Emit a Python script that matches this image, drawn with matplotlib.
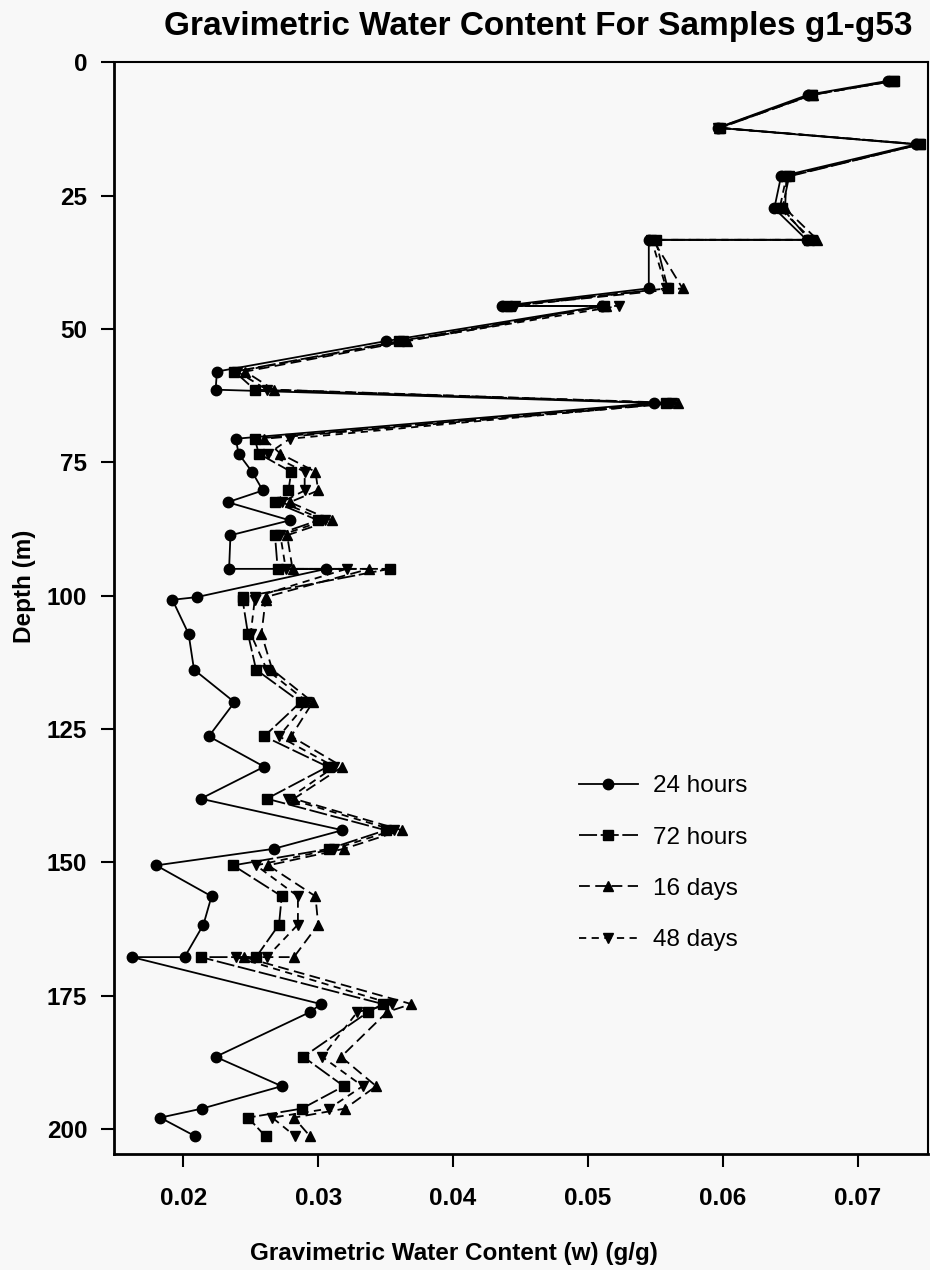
import numpy as np
import matplotlib
matplotlib.use('Agg')
import matplotlib.pyplot as plt

plt.rcParams['font.family'] = ['Liberation Sans', 'DejaVu Sans']

# depth of each sample (m)
depth = [3.5, 6.1, 12.3, 15.4, 21.4, 27.4, 33.3, 33.3, 42.4, 45.7, 45.7, 52.3,
         58.0, 61.4, 63.9, 70.6, 73.4, 76.8, 80.3, 82.5, 85.9, 88.7, 95.0, 95.0,
         100.3, 100.8, 107.2, 113.9, 120.0, 126.4, 132.1, 138.1, 144.0, 147.5,
         150.6, 156.4, 161.7, 167.8, 167.8, 176.6, 178.1, 186.5, 192.0, 196.2,
         197.9, 201.4]

w_24h = [0.0722, 0.0663, 0.0596, 0.0743, 0.0643, 0.0638, 0.0662, 0.0545, 0.0545, 0.0436, 0.0510, 0.0350,
         0.0225, 0.0224, 0.0549, 0.0239, 0.0241, 0.0251, 0.0259, 0.0233, 0.0279, 0.0235, 0.0234, 0.0306,
         0.0210, 0.0192, 0.0204, 0.0208, 0.0238, 0.0219, 0.0260, 0.0213, 0.0318, 0.0267,
         0.0180, 0.0221, 0.0215, 0.0201, 0.0162, 0.0302, 0.0294, 0.0224, 0.0273, 0.0214,
         0.0183, 0.0209]

w_72h = [0.0727, 0.0666, 0.0598, 0.0746, 0.0649, 0.0644, 0.0664, 0.0550, 0.0559, 0.0440, 0.0512, 0.0360,
         0.0238, 0.0253, 0.0558, 0.0253, 0.0256, 0.0280, 0.0278, 0.0268, 0.0300, 0.0268, 0.0270, 0.0353,
         0.0244, 0.0244, 0.0248, 0.0254, 0.0287, 0.0260, 0.0307, 0.0262, 0.0350, 0.0308,
         0.0237, 0.0273, 0.0271, 0.0254, 0.0213, 0.0348, 0.0337, 0.0289, 0.0319, 0.0288,
         0.0248, 0.0261]

w_16d = [0.0726, 0.0667, 0.0597, 0.0746, 0.0647, 0.0646, 0.0670, 0.0548, 0.0570, 0.0442, 0.0513, 0.0366,
         0.0246, 0.0267, 0.0567, 0.0260, 0.0272, 0.0298, 0.0300, 0.0279, 0.0310, 0.0277, 0.0281, 0.0338,
         0.0261, 0.0261, 0.0258, 0.0266, 0.0296, 0.0280, 0.0318, 0.0282, 0.0362, 0.0319,
         0.0263, 0.0298, 0.0300, 0.0282, 0.0245, 0.0369, 0.0351, 0.0317, 0.0343, 0.0320,
         0.0282, 0.0294]

w_48d = [0.0727, 0.0666, 0.0596, 0.0745, 0.0647, 0.0642, 0.0666, 0.0547, 0.0558, 0.0446, 0.0523, 0.0363,
         0.0240, 0.0262, 0.0562, 0.0279, 0.0263, 0.0290, 0.0290, 0.0273, 0.0305, 0.0272, 0.0276, 0.0321,
         0.0253, 0.0253, 0.0250, 0.0262, 0.0292, 0.0271, 0.0312, 0.0278, 0.0356, 0.0312,
         0.0254, 0.0285, 0.0285, 0.0262, 0.0239, 0.0355, 0.0329, 0.0303, 0.0333, 0.0308,
         0.0266, 0.0283]

labels = ['24 hours', '72 hours', '16 days', '48 days']
x_ticks = [0.02, 0.03, 0.04, 0.05, 0.06, 0.07]
y_ticks = [0, 25, 50, 75, 100, 125, 150, 175, 200]

bg = '#f8f8f8'
fig = plt.figure(figsize=(9.3, 12.7), dpi=100, facecolor=bg)
ax = fig.add_axes([0.123, 0.091, 0.875, 0.860], facecolor=bg)

ax.plot(w_24h, depth, color='black', lw=1.3, ls='-', marker='o', ms=7.5, label=labels[0])
ax.plot(w_72h, depth, color='black', lw=1.3, ls=(0, (10, 2)), marker='s', ms=7, label=labels[1])
ax.plot(w_16d, depth, color='black', lw=1.3, ls=(0, (6, 3)), marker='^', ms=7.5, label=labels[2])
ax.plot(w_48d, depth, color='black', lw=1.3, ls=(0, (4, 3)), marker='v', ms=7.5, label=labels[3])

ax.set_xlim(0.0149, 0.0752)
ax.set_ylim(204.8, 0)
ax.set_xticks(x_ticks)
ax.set_xticklabels(['%.2f' % v for v in x_ticks])
ax.set_yticks(y_ticks)

for s in ['left', 'bottom']:
    ax.spines[s].set_linewidth(2)
for s in ['top', 'right']:
    ax.spines[s].set_linewidth(1.5)

ax.tick_params(axis='both', direction='out', length=9.5, width=1.5,
               labelsize=17.5)
ax.tick_params(axis='x', pad=14)
ax.tick_params(axis='y', pad=10)
for t in ax.get_xticklabels() + ax.get_yticklabels():
    t.set_fontweight('bold')

ax.set_xlabel('Gravimetric Water Content (w) (g/g)', fontsize=17.5, fontweight='bold')
ax.xaxis.set_label_coords(0.417, -0.080)
ax.set_ylabel('Depth (m)', fontsize=17.5, fontweight='bold')
ax.yaxis.set_label_coords(-0.096, 0.52)

fig.text(0.579, 0.979, 'Gravimetric Water Content For Samples g1-g53',
         fontsize=24, fontweight='bold', ha='center', va='center')

ax.legend(loc='upper left', bbox_to_anchor=(0.544, 0.367), frameon=False,
          fontsize=17.5, handlelength=2.43, handletextpad=0.62, labelspacing=1.2)

plt.savefig('out.png', dpi=100, facecolor=bg)
